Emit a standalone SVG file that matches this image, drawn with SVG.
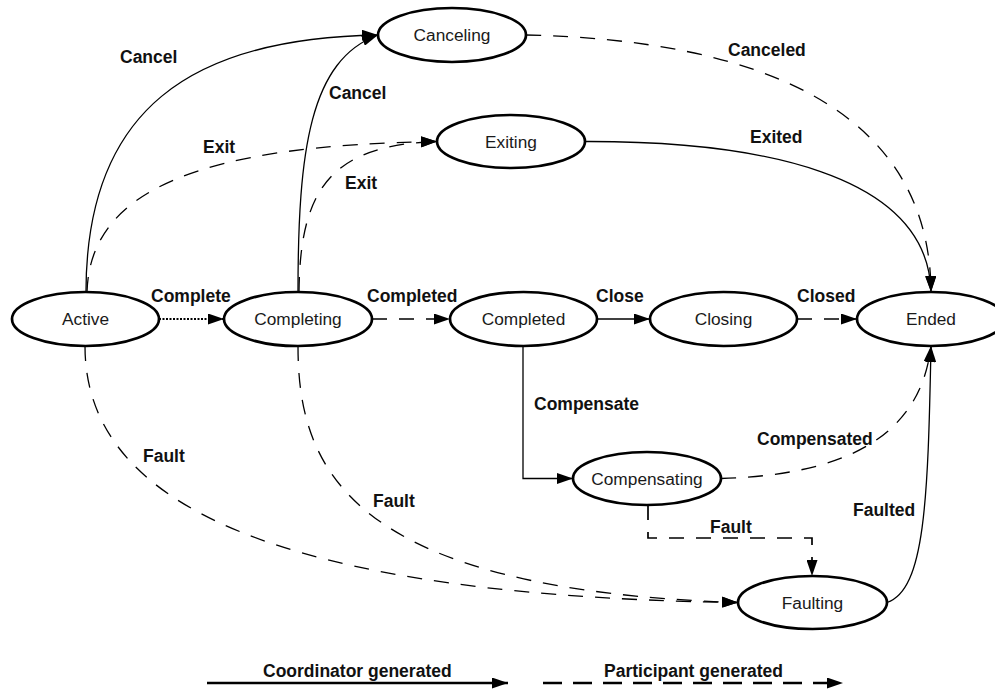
<svg xmlns="http://www.w3.org/2000/svg" width="995" height="691" viewBox="0 0 995 691">
<style>
.node ellipse{fill:#fff;stroke:#000;stroke-width:2.7}
.node text{font-family:"Liberation Sans",Arial,sans-serif;font-size:17.3px;text-anchor:middle;fill:#1a1a1a}
.lbl{font-family:"Liberation Sans",Arial,sans-serif;font-size:17.5px;font-weight:bold;fill:#111}
.c{fill:none;stroke:#000;stroke-width:1.3}
.d{stroke-dasharray:15,12}
.dot{stroke-dasharray:2,1.5;stroke-width:2}
.leg{fill:none;stroke:#000;stroke-width:2.5}
</style>
<defs>
<marker id="ah" markerUnits="userSpaceOnUse" markerWidth="16" markerHeight="11" refX="16" refY="5.5" orient="auto">
<path d="M0,0 L16,5.5 L0,11 z" fill="#000"/>
</marker>
</defs>
<g id="connectors">
<path class="c dot" d="M159,319 L224,319" marker-end="url(#ah)"/>
<path class="c d" d="M372,319 L450,319" marker-end="url(#ah)"/>
<path class="c" d="M597,319 L650,319" marker-end="url(#ah)"/>
<path class="c d" d="M797,319 L857,319" marker-end="url(#ah)"/>
<path class="c" d="M86,292 C86,110 190,38 378,35" marker-end="url(#ah)"/>
<path class="c" d="M298,292 C298,150 310,60 378,35" marker-end="url(#ah)"/>
<path class="c d" d="M87,292 C90,190 200,145 437,141.5" marker-end="url(#ah)"/>
<path class="c d" d="M299,292 C300,190 330,145 437,141.5" marker-end="url(#ah)"/>
<path class="c d" d="M526,35 C760,40 930,110 931,292" marker-end="url(#ah)"/>
<path class="c" d="M585,141.5 C755,141 928,172 931,292" marker-end="url(#ah)"/>
<path class="c" d="M523,346 L523,478.5 L573,478.5" marker-end="url(#ah)"/>
<path class="c d" d="M721,478.5 C840,475 920,440 931,346" marker-end="url(#ah)"/>
<path class="c" d="M887,602.5 C925,590 928,500 931,346" marker-end="url(#ah)"/>
<path class="c d" d="M648,505 L648,538 L812,538 L812,576" style="stroke-width:1.7" marker-end="url(#ah)"/>
<path class="c d" d="M85,346 C85,480 220,595 738,602.5" marker-end="url(#ah)"/>
<path class="c d" d="M298,346 C298,470 350,590 738,602.5" marker-end="url(#ah)"/>
<path class="leg" d="M207,683 L508,683" marker-end="url(#ah)"/>
<path class="leg" d="M543,683 L843,683" style="stroke-dasharray:19,11" marker-end="url(#ah)"/>
</g>
<g id="labels">
<text class="lbl" x="120" y="63">Cancel</text>
<text class="lbl" x="329" y="99">Cancel</text>
<text class="lbl" x="203" y="153">Exit</text>
<text class="lbl" x="345" y="189">Exit</text>
<text class="lbl" x="728" y="56">Canceled</text>
<text class="lbl" x="750" y="143">Exited</text>
<text class="lbl" x="151" y="302">Complete</text>
<text class="lbl" x="367" y="302">Completed</text>
<text class="lbl" x="596" y="302">Close</text>
<text class="lbl" x="797" y="302">Closed</text>
<text class="lbl" x="534" y="409.5">Compensate</text>
<text class="lbl" x="757" y="444.5">Compensated</text>
<text class="lbl" x="143" y="462">Fault</text>
<text class="lbl" x="373" y="507">Fault</text>
<text class="lbl" x="710" y="533">Fault</text>
<text class="lbl" x="853" y="516">Faulted</text>
<text class="lbl" x="263" y="677">Coordinator generated</text>
<text class="lbl" x="604" y="677">Participant generated</text>
</g>
<g id="active" class="node"><ellipse cx="85.5" cy="319" rx="73.5" ry="27"/><text x="85.5" y="325.2">Active</text></g>
<g id="completing" class="node"><ellipse cx="298" cy="319" rx="74" ry="27"/><text x="298" y="325.2">Completing</text></g>
<g id="completed" class="node"><ellipse cx="523.5" cy="319" rx="73.5" ry="27"/><text x="523.5" y="325.2">Completed</text></g>
<g id="closing" class="node"><ellipse cx="723.5" cy="319" rx="73.5" ry="27"/><text x="723.5" y="325.2">Closing</text></g>
<g id="ended" class="node"><ellipse cx="931" cy="319" rx="74" ry="27"/><text x="931" y="325.2">Ended</text></g>
<g id="canceling" class="node"><ellipse cx="452" cy="35" rx="74" ry="27"/><text x="452" y="41.2">Canceling</text></g>
<g id="exiting" class="node"><ellipse cx="511" cy="141.5" rx="74" ry="26.5"/><text x="511" y="147.7">Exiting</text></g>
<g id="compensating" class="node"><ellipse cx="647" cy="478.5" rx="74" ry="26.5"/><text x="647" y="484.7">Compensating</text></g>
<g id="faulting" class="node"><ellipse cx="812.5" cy="602.5" rx="74.5" ry="26.5"/><text x="812.5" y="608.7">Faulting</text></g>
</svg>
